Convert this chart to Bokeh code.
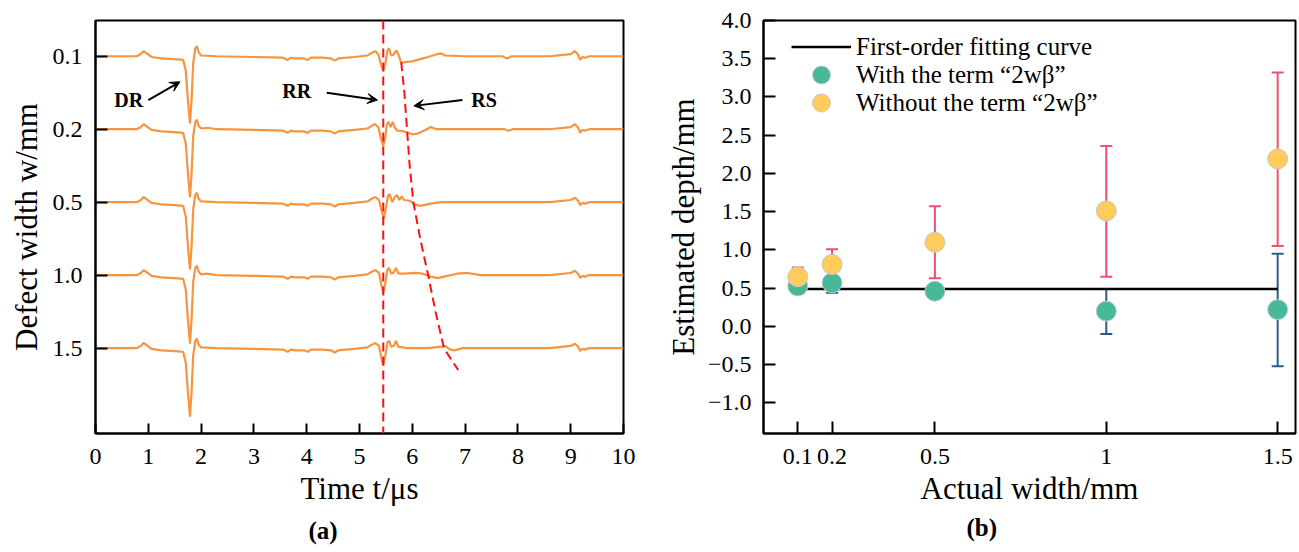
from bokeh.plotting import figure
from bokeh.layouts import row
from bokeh.models import (FixedTicker, Span, Label, Arrow, VeeHead, Whisker, TeeHead,
                          ColumnDataSource, Legend, LegendItem, Range1d, Title)
from bokeh.embed import file_html
from bokeh.resources import INLINE

FONT = "Liberation Serif"

# ---------------- panel (a) data: (time in us, relative amplitude) ----------------
width_labels = ["0.1", "0.2", "0.5", "1.0", "1.5"]

trace_01 = [(0.00, 0.00), (0.78, 0.00), (0.86, 0.03), (0.91, 0.07), (0.97, 0.04), (1.06, -0.01),
            (1.25, -0.03), (1.50, -0.04), (1.66, -0.05), (1.71, -0.20), (1.75, -0.60), (1.79, -0.92),
            (1.82, -0.60), (1.85, -0.10), (1.89, 0.11), (1.92, 0.14), (1.95, 0.06), (2.00, 0.01),
            (2.30, 0.00), (3.00, -0.01), (3.55, -0.02), (3.64, -0.05), (3.70, -0.02), (3.78, -0.03),
            (3.95, -0.03), (4.02, -0.05), (4.08, -0.02), (4.30, -0.02), (4.46, -0.03), (4.53, -0.06),
            (4.60, -0.03), (4.90, -0.01), (5.15, 0.01), (5.24, 0.05), (5.30, 0.07), (5.36, 0.02),
            (5.41, -0.12), (5.45, -0.20), (5.49, -0.10), (5.53, 0.08), (5.56, 0.11), (5.60, 0.01),
            (5.64, 0.02), (5.70, 0.08), (5.74, 0.02), (5.79, -0.09), (5.86, -0.08), (6.00, -0.07),
            (6.15, -0.04), (6.30, -0.01), (6.48, 0.03), (6.55, 0.04), (6.62, 0.01), (7.00, 0.00),
            (7.70, 0.00), (7.80, -0.03), (7.88, 0.00), (8.60, 0.00), (9.00, 0.03), (9.08, 0.07),
            (9.14, 0.02), (9.18, -0.05), (9.22, -0.01), (9.27, -0.02), (9.35, 0.00), (10.00, 0.00)]

trace_02 = [(0.00, 0.00), (0.78, 0.00), (0.86, 0.03), (0.91, 0.07), (0.97, 0.04), (1.06, -0.01),
            (1.25, -0.03), (1.50, -0.04), (1.66, -0.05), (1.71, -0.20), (1.75, -0.60), (1.79, -0.93),
            (1.82, -0.60), (1.85, -0.10), (1.89, 0.10), (1.92, 0.13), (1.95, 0.05), (2.00, 0.01),
            (2.12, 0.02), (2.30, 0.00), (3.00, -0.01), (3.55, -0.02), (3.64, -0.05), (3.70, -0.02),
            (3.78, -0.03), (3.95, -0.03), (4.02, -0.05), (4.08, -0.02), (4.30, -0.02), (4.46, -0.03),
            (4.53, -0.06), (4.60, -0.03), (4.90, -0.01), (5.15, 0.01), (5.24, 0.05), (5.30, 0.07),
            (5.36, 0.02), (5.41, -0.14), (5.45, -0.23), (5.49, -0.10), (5.52, 0.07), (5.55, 0.10),
            (5.59, 0.03), (5.63, 0.10), (5.67, 0.02), (5.72, -0.02), (5.85, -0.03), (6.00, -0.07),
            (6.10, -0.06), (6.25, -0.01), (6.35, 0.03), (6.45, 0.00), (7.00, 0.00), (7.75, 0.00),
            (7.82, -0.02), (7.90, 0.00), (8.60, 0.00), (9.00, 0.03), (9.08, 0.07), (9.14, 0.02),
            (9.18, -0.05), (9.22, -0.01), (9.27, -0.02), (9.35, 0.00), (10.00, 0.00)]

trace_05 = [(0.00, 0.00), (0.78, 0.00), (0.86, 0.03), (0.91, 0.07), (0.97, 0.04), (1.06, -0.01),
            (1.25, -0.03), (1.50, -0.04), (1.66, -0.05), (1.71, -0.20), (1.75, -0.60), (1.79, -0.92),
            (1.82, -0.60), (1.85, -0.10), (1.89, 0.10), (1.92, 0.13), (1.95, 0.05), (2.00, 0.01),
            (2.30, 0.00), (3.00, -0.01), (3.55, -0.02), (3.64, -0.05), (3.70, -0.02), (3.78, -0.03),
            (3.95, -0.03), (4.02, -0.05), (4.08, -0.02), (4.30, -0.02), (4.46, -0.03), (4.53, -0.06),
            (4.60, -0.03), (4.90, -0.01), (5.15, 0.01), (5.24, 0.05), (5.30, 0.07), (5.37, 0.03),
            (5.42, -0.12), (5.46, -0.23), (5.50, -0.08), (5.54, 0.09), (5.57, 0.11), (5.62, 0.00),
            (5.67, 0.07), (5.71, 0.10), (5.75, 0.03), (5.80, 0.08), (5.84, 0.03), (5.95, 0.02),
            (6.05, -0.03), (6.15, -0.05), (6.35, -0.02), (6.55, 0.00), (7.00, 0.00), (8.60, 0.00),
            (9.00, 0.03), (9.08, 0.06), (9.14, 0.02), (9.18, -0.04), (9.22, -0.01), (9.27, -0.02),
            (9.35, 0.00), (10.00, 0.00)]

trace_10 = [(0.00, 0.00), (0.78, 0.00), (0.86, 0.03), (0.91, 0.07), (0.97, 0.04), (1.06, -0.01),
            (1.25, -0.03), (1.50, -0.04), (1.66, -0.05), (1.71, -0.20), (1.75, -0.60), (1.79, -0.94),
            (1.82, -0.60), (1.85, -0.10), (1.89, 0.10), (1.92, 0.13), (1.95, 0.05), (2.00, 0.01),
            (2.12, 0.02), (2.30, 0.00), (3.00, -0.01), (3.55, -0.02), (3.64, -0.05), (3.70, -0.02),
            (3.78, -0.03), (3.95, -0.03), (4.02, -0.05), (4.08, -0.02), (4.30, -0.02), (4.46, -0.03),
            (4.53, -0.06), (4.60, -0.03), (4.90, -0.01), (5.15, 0.01), (5.24, 0.05), (5.30, 0.07),
            (5.37, 0.03), (5.41, -0.12), (5.45, -0.25), (5.49, -0.10), (5.53, 0.08), (5.56, 0.10),
            (5.60, 0.02), (5.65, 0.04), (5.69, 0.10), (5.74, 0.02), (5.85, 0.02), (6.05, 0.03),
            (6.20, 0.02), (6.35, -0.02), (6.48, -0.04), (6.60, -0.02), (6.85, 0.02), (7.05, 0.03),
            (7.30, 0.00), (8.60, 0.00), (9.00, 0.03), (9.08, 0.06), (9.14, 0.02), (9.18, -0.04),
            (9.22, -0.01), (9.27, -0.02), (9.35, 0.00), (10.00, 0.00)]

trace_15 = [(0.00, 0.00), (0.78, 0.00), (0.86, 0.03), (0.91, 0.07), (0.97, 0.04), (1.06, -0.01),
            (1.25, -0.03), (1.50, -0.04), (1.66, -0.05), (1.71, -0.20), (1.75, -0.60), (1.79, -0.94),
            (1.82, -0.60), (1.85, -0.10), (1.89, 0.10), (1.92, 0.13), (1.95, 0.05), (2.00, 0.01),
            (2.30, 0.00), (3.00, -0.01), (3.55, -0.02), (3.64, -0.05), (3.70, -0.02), (3.78, -0.03),
            (3.95, -0.03), (4.02, -0.05), (4.08, -0.02), (4.30, -0.02), (4.46, -0.03), (4.53, -0.06),
            (4.60, -0.03), (4.90, -0.01), (5.15, 0.01), (5.24, 0.05), (5.30, 0.07), (5.37, 0.03),
            (5.41, -0.12), (5.45, -0.24), (5.49, -0.10), (5.53, 0.08), (5.56, 0.10), (5.60, 0.02),
            (5.65, 0.03), (5.69, 0.10), (5.73, 0.02), (5.90, 0.00), (6.30, 0.00), (6.55, 0.02),
            (6.62, 0.03), (6.72, -0.02), (6.80, -0.03), (6.95, 0.00), (8.60, 0.00), (9.00, 0.03),
            (9.08, 0.06), (9.14, 0.02), (9.18, -0.04), (9.22, -0.01), (9.27, -0.02), (9.35, 0.00),
            (10.00, 0.00)]

traces = [trace_01, trace_02, trace_05, trace_10, trace_15]
trace_levels = [0, -1, -2, -3, -4]   # vertical stacking position of each trace

rr_time = 5.45
rs_time = [5.79, 5.85, 5.90, 5.95, 6.02, 6.15, 6.30, 6.44, 6.60, 6.73, 6.87]
rs_level = [-0.08, -0.50, -1.00, -1.50, -2.00, -2.50, -3.00, -3.50, -4.00, -4.15, -4.30]

# ---------------- panel (b) data ----------------
actual_width = [0.1, 0.2, 0.5, 1.0, 1.5]
with_term = [0.53, 0.57, 0.46, 0.20, 0.22]
with_lo = [0.43, 0.44, 0.38, -0.10, -0.52]
with_hi = [0.60, 0.62, 0.54, 0.49, 0.95]
without_term = [0.65, 0.81, 1.10, 1.51, 2.19]
without_lo = [0.54, 0.62, 0.63, 0.65, 1.05]
without_hi = [0.77, 1.01, 1.57, 2.36, 3.32]
fit_x = [0.1, 1.5]
fit_y = [0.49, 0.49]

ORANGE = "#F7943F"
RED = "#FF1010"
GREEN = "#45B99A"
YELLOW = "#FFCC5C"
PINK = "#EF4F72"
BLUE = "#2B5B88"


def style_axis(ax, tick_in):
    ax.axis_line_width = 2
    ax.axis_line_color = "black"
    ax.major_tick_line_width = 2
    ax.major_tick_line_color = "black"
    ax.major_tick_in = tick_in
    ax.major_tick_out = 0
    ax.minor_tick_line_color = None
    ax.major_label_text_font = FONT
    ax.major_label_text_font_size = "24px"
    ax.major_label_text_color = "black"
    ax.axis_label_text_font = FONT
    ax.axis_label_text_font_size = "31px"
    ax.axis_label_text_font_style = "normal"
    ax.axis_label_text_color = "black"


def panel_title(text, offset, standoff):
    return Title(text=text, align="left", offset=offset, standoff=standoff,
                 text_font=FONT, text_font_size="25px", text_font_style="bold",
                 text_color="black")


# ================= panel (a) =================
p1 = figure(width=650, height=552, x_range=Range1d(0, 10), y_range=Range1d(-5.17, 0.49),
            output_backend="svg", toolbar_location=None,
            min_border_left=95, min_border_right=27, min_border_top=18, min_border_bottom=119)
p1.grid.grid_line_color = None
p1.outline_line_color = "black"
p1.outline_line_width = 2
p1.outline_line_alpha = 1
p1.background_fill_color = "white"
p1.border_fill_color = "white"

for tr, lev in zip(traces, trace_levels):
    t = [a for a, b in tr]
    v = [b + lev for a, b in tr]
    p1.line(t, v, line_color=ORANGE, line_width=2.2)

p1.add_layout(Span(location=rr_time, dimension="height", line_color=RED, line_width=2,
                   line_dash="9 5"))
p1.line(rs_time, rs_level, line_color=RED, line_width=2, line_dash="9 5")

for txt, x, y in [("DR", 0.63, -0.60), ("RR", 3.81, -0.47), ("RS", 7.36, -0.60)]:
    p1.add_layout(Label(x=x, y=y, text=txt, text_font=FONT, text_font_size="20px",
                        text_font_style="bold", text_align="center", text_baseline="middle",
                        text_color="black"))

for xs, ys, xe, ye in [(1.0, -0.60, 1.60, -0.35), (4.38, -0.50, 5.34, -0.60), (6.95, -0.60, 6.03, -0.68)]:
    p1.add_layout(Arrow(x_start=xs, y_start=ys, x_end=xe, y_end=ye, line_width=2, line_color="black",
                        end=VeeHead(size=10, fill_color="black", line_color="black", line_width=1)))

p1.xaxis.ticker = FixedTicker(ticks=list(range(11)))
p1.yaxis.ticker = FixedTicker(ticks=trace_levels)
p1.yaxis.major_label_overrides = {lev: lab for lev, lab in zip(trace_levels, width_labels)}
p1.xaxis.axis_label = "Time t/\u03bcs"
p1.yaxis.axis_label = "Defect width w/mm"
style_axis(p1.xaxis[0], 10)
style_axis(p1.yaxis[0], 12)
p1.xaxis.major_label_standoff = 15
p1.yaxis.major_label_standoff = 13
p1.xaxis.axis_label_standoff = 4
p1.yaxis.axis_label_standoff = 6

p1.add_layout(panel_title("(a)", 213, 13), "below")

# ================= panel (b) =================
p2 = figure(width=649, height=552, x_range=Range1d(0, 1.552), y_range=Range1d(-1.4, 4.0),
            output_backend="svg", toolbar_location=None,
            min_border_left=113, min_border_right=4, min_border_top=20, min_border_bottom=112)
p2.grid.grid_line_color = None
p2.outline_line_color = "black"
p2.outline_line_width = 2
p2.outline_line_alpha = 1
p2.background_fill_color = "white"
p2.border_fill_color = "white"

src_w = ColumnDataSource(dict(x=actual_width, lo=with_lo, hi=with_hi))
src_wo = ColumnDataSource(dict(x=actual_width, lo=without_lo, hi=without_hi))
for src, col in [(src_wo, PINK), (src_w, BLUE)]:
    p2.add_layout(Whisker(base="x", lower="lo", upper="hi", source=src, line_color=col, line_width=2,
                          level="underlay",
                          upper_head=TeeHead(size=12, line_color=col, line_width=2),
                          lower_head=TeeHead(size=12, line_color=col, line_width=2)))

r_fit = p2.line(fit_x, fit_y, line_color="black", line_width=2.5)
r_g = p2.scatter(actual_width, with_term, size=20, fill_color=GREEN, line_color="#C8C8C8", line_width=1)
r_y = p2.scatter(actual_width, without_term, size=20, fill_color=YELLOW, line_color="#C8C8C8", line_width=1)

legend_entries = [("First-order fitting curve", r_fit, 364),
                  ("With the term \u201c2w\u03b2\u201d", r_g, 336),
                  ("Without the term \u201c2w\u03b2\u201d", r_y, 308)]
for lab, rend, vy in legend_entries:
    lg = Legend(items=[LegendItem(label=lab, renderers=[rend])],
                location=(28, vy), margin=0, padding=0, spacing=0,
                glyph_width=60, glyph_height=45, label_height=45, label_standoff=5,
                label_text_font=FONT, label_text_font_size="25px", label_text_color="black",
                border_line_color=None, background_fill_alpha=0)
    p2.add_layout(lg)

p2.xaxis.ticker = FixedTicker(ticks=actual_width)
p2.xaxis.major_label_overrides = {0.1: "0.1", 0.2: "0.2", 0.5: "0.5", 1.0: "1", 1.5: "1.5"}
y_ticks = [-1.0, -0.5, 0.0, 0.5, 1.0, 1.5, 2.0, 2.5, 3.0, 3.5, 4.0]
p2.yaxis.ticker = FixedTicker(ticks=y_ticks)
p2.yaxis.major_label_overrides = {t: ("\u2212%.1f" % abs(t) if t < 0 else "%.1f" % t) for t in y_ticks}
p2.xaxis.axis_label = "Actual width/mm"
p2.yaxis.axis_label = "Estimated depth/mm"
style_axis(p2.xaxis[0], 12)
style_axis(p2.yaxis[0], 12)
p2.xaxis.major_label_standoff = 15
p2.yaxis.major_label_standoff = 12
p2.xaxis.axis_label_standoff = 4
p2.yaxis.axis_label_standoff = 4

p2.add_layout(panel_title("(b)", 203, 6), "below")

layout = row(p1, p2)
open("out.html", "w").write(file_html(layout, INLINE))
